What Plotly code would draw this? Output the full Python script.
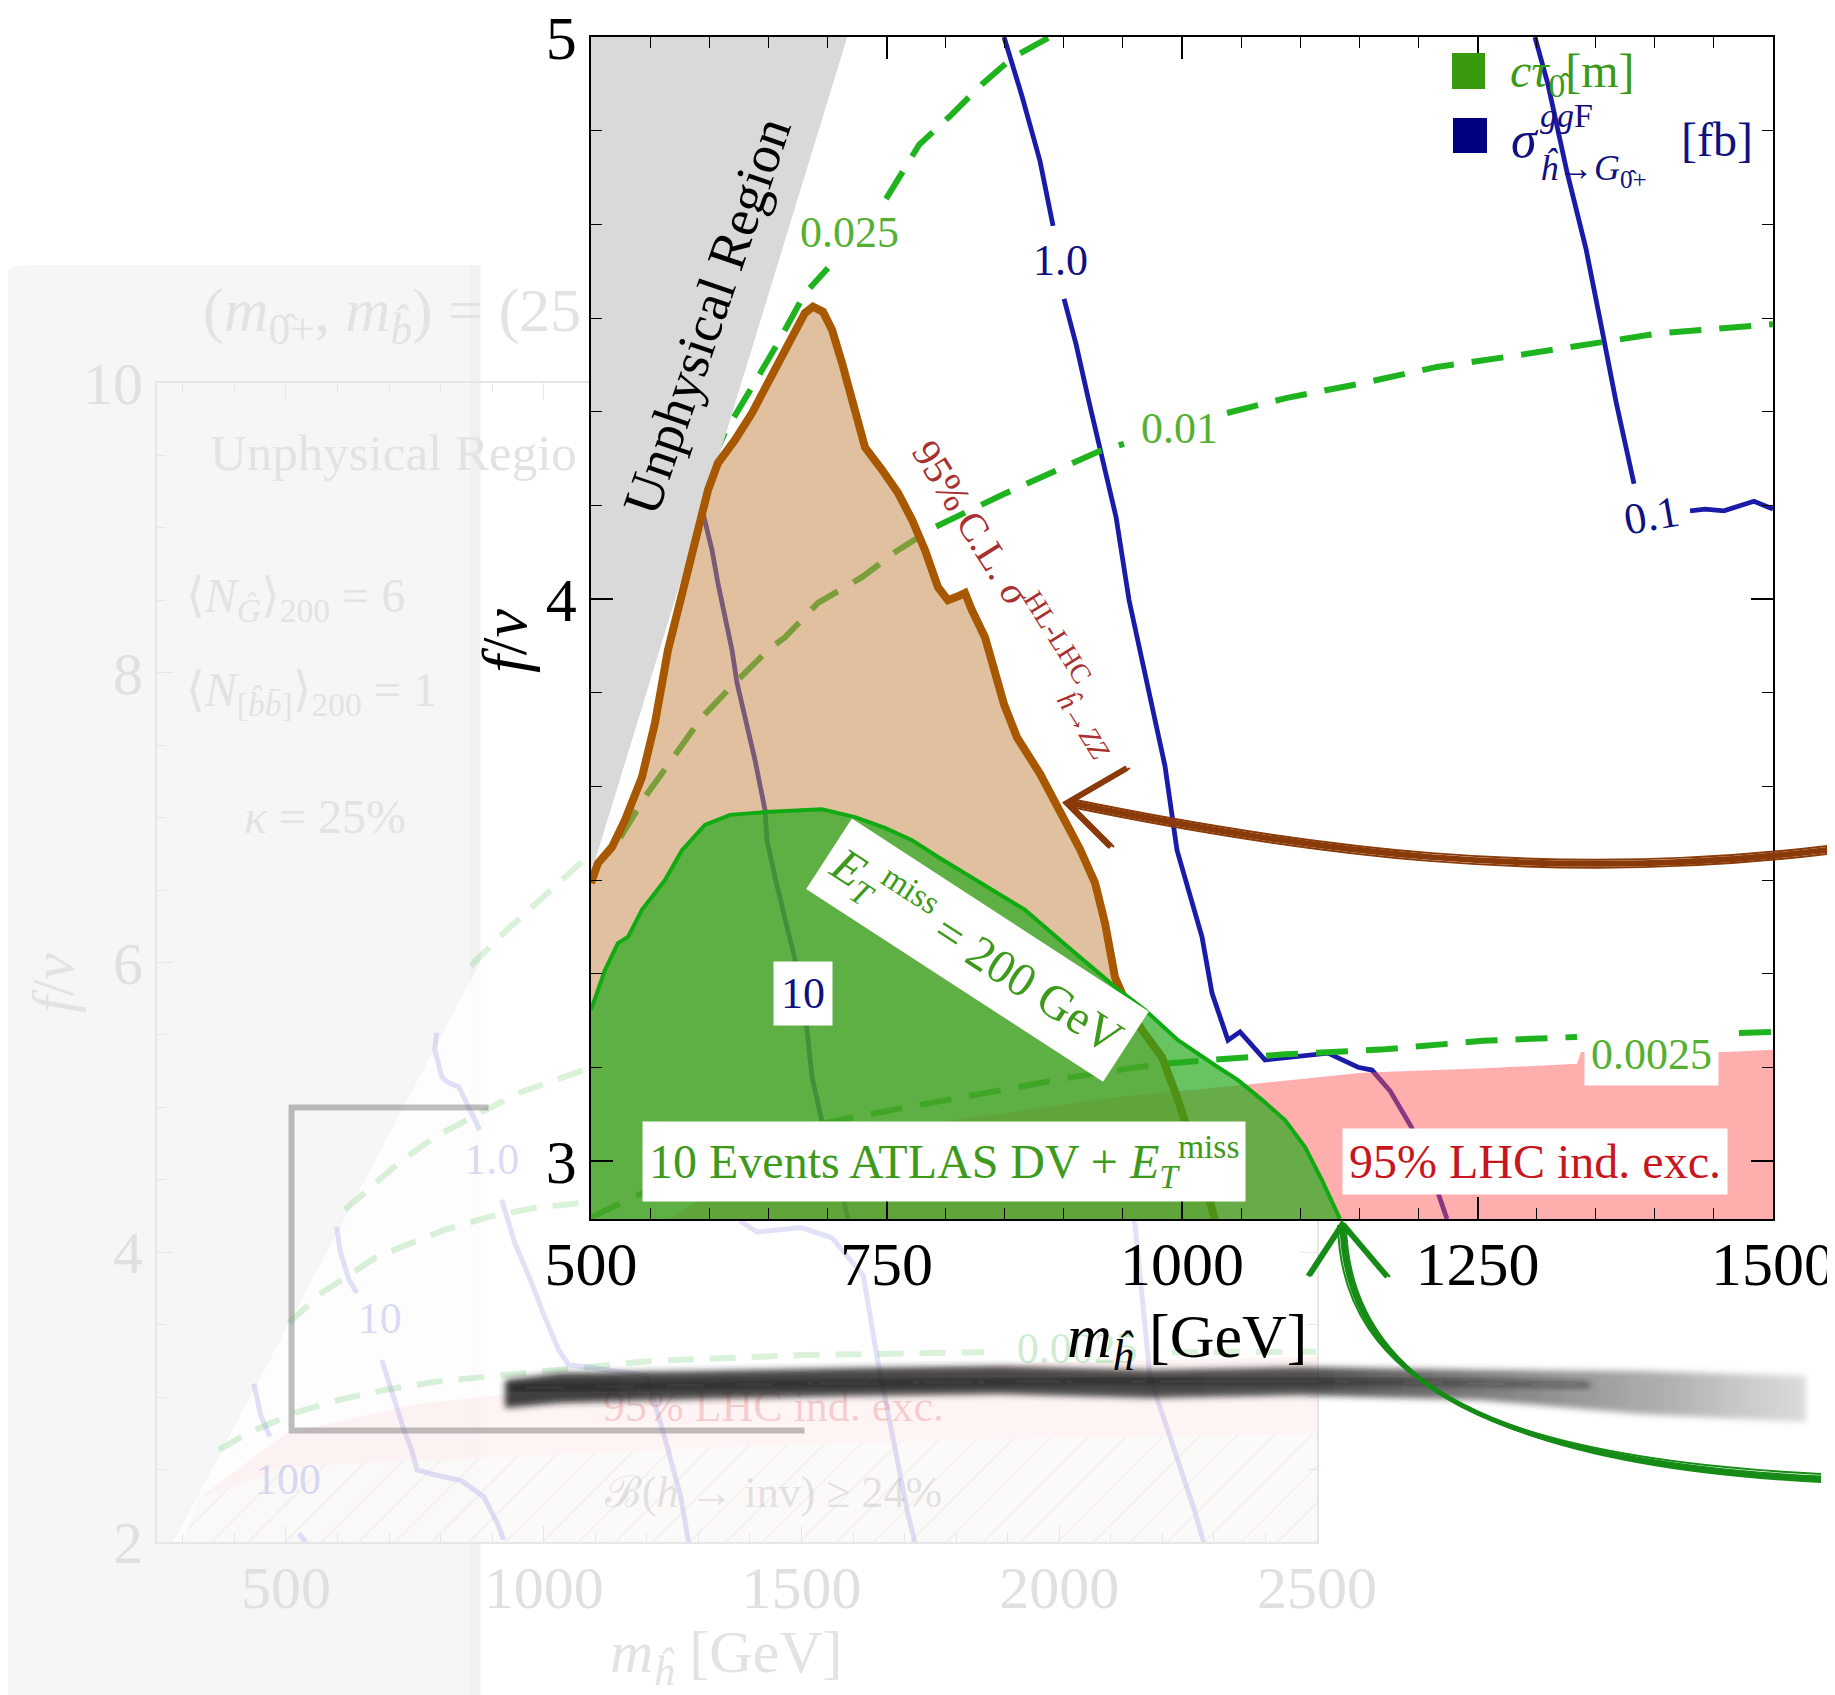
import base64
import plotly.graph_objects as go

W, H = 1835, 1695          # page size
OX, OY = 8, 8              # default body margin of the html page
FW, FH = W - OX, H - OY    # figure size
SERIF = "Liberation Serif, DejaVu Serif, serif"

# ================= main panel data : m_h [GeV] vs f/v =================
UNPHYS_X = [500.0, 716.8, 500.0]
UNPHYS_Y = [3.511, 5.0, 5.0]

BROWN_X = [500.0, 505.9, 517.8, 528.8, 543.1, 554.1, 565.1, 579.5, 590.5, 599.0, 607.4, 621.8,
           636.2, 653.1, 670.1, 681.0, 687.8, 696.3, 703.9, 712.4, 720.8, 731.8, 746.2, 759.7,
           771.6, 782.6, 793.6, 802.0, 810.5, 816.4, 822.3, 833.3, 849.4, 860.4, 879.9, 898.5,
           913.7, 926.4, 934.9, 943.3, 951.8, 966.2, 983.1, 996.6, 1008.5, 1019.5, 1027.9]
BROWN_Y = [3.495, 3.530, 3.559, 3.607, 3.683, 3.779, 3.909, 4.028, 4.128, 4.194, 4.242, 4.283,
           4.331, 4.395, 4.466, 4.509, 4.520, 4.511, 4.479, 4.420, 4.349, 4.270, 4.230, 4.189,
           4.141, 4.087, 4.021, 3.998, 4.005, 4.011, 3.980, 3.932, 3.813, 3.754, 3.689, 3.614,
           3.555, 3.495, 3.423, 3.327, 3.286, 3.233, 3.185, 3.109, 3.032, 2.961, 2.895]

GREEN_X = [500.0, 511.8, 522.8, 531.3, 543.1, 562.6, 577.0, 596.4, 617.6, 647.2, 695.4, 723.4,
           748.7, 771.6, 793.6, 833.3, 867.2, 903.6, 943.3, 968.7, 996.6, 1030.5, 1047.4, 1067.7,
           1087.1, 1104.1, 1118.4, 1133.7]
GREEN_Y = [3.269, 3.340, 3.388, 3.399, 3.447, 3.500, 3.553, 3.598, 3.616, 3.621, 3.626, 3.612,
           3.593, 3.571, 3.541, 3.491, 3.447, 3.381, 3.310, 3.269, 3.215, 3.167, 3.144, 3.109,
           3.073, 3.025, 2.966, 2.897]

PINK_X = [566.0, 592.2, 642.1, 719.1, 792.7, 944.2, 1015.2, 1082.9, 1152.3, 1254.7, 1334.2,
          1337.6, 1461.1, 1500.0]
PINK_Y = [2.897, 2.931, 2.980, 3.028, 3.069, 3.114, 3.128, 3.142, 3.157, 3.165, 3.173,
          3.194, 3.194, 3.198]

SIG_1_X = [849.4, 864.6, 879.9, 890.9, None, 900.2, 910.3, 921.3, 932.3, 944.2, 955.2, 970.4,
           985.6, 995.8, 1005.1, 1016.9, 1025.4, 1038.9, 1049.1, 1070.2, 1123.5, 1148.9, 1160.7,
           1176.0, 1193.7, 1210.7, 1224.2]
SIG_1_Y = [5.0, 4.895, 4.779, 4.664, None, 4.534, 4.454, 4.351, 4.249, 4.146, 3.998, 3.851,
           3.703, 3.553, 3.482, 3.399, 3.299, 3.215, 3.230, 3.180, 3.192, 3.167, 3.162,
           3.125, 3.062, 2.980, 2.897]
SIG_01_X = [1298.6, 1309.6, 1325.7, 1341.8, 1354.5, 1367.2, 1382.4, None, 1429.8, 1442.5,
            1458.5, 1483.9, 1500.0]
SIG_01_Y = [5.0, 4.916, 4.760, 4.623, 4.488, 4.351, 4.205, None, 4.157, 4.160, 4.157, 4.174, 4.160]
SIG_10_X = [594.8, 602.4, 607.4, 613.4, 619.3, 623.5, 632.8, 638.7, 647.2, 648.9, 655.7, 664.1,
            670.9, 679.4, 687.0, 696.3, 709.8, 717.4]
SIG_10_Y = [4.153, 4.087, 4.028, 3.968, 3.909, 3.851, 3.772, 3.714, 3.625, 3.571, 3.505, 3.434,
            3.375, 3.299, 3.149, 3.062, 2.966, 2.897]

CT025_X = [602.4, 613.4, 636.2, 658.2, 681.0, 700.5, None, 749.6, 777.5, 804.6, 830.8, 857.0, 888.3]
CT025_Y = [4.244, 4.297, 4.377, 4.456, 4.544, 4.589, None, 4.712, 4.808, 4.861, 4.916, 4.964, 5.0]
CT01_X = [524.5, 545.7, 560.1, 582.1, 593.9, 621.8, 649.7, 664.1, 692.0, 729.3, 759.7, 791.0,
          849.4, 928.9, 950.9, None, 1038.1, 1088.8, 1152.3, 1215.7, 1278.3, 1341.8, 1404.4, 1500.0]
CT01_Y = [3.575, 3.648, 3.690, 3.754, 3.790, 3.851, 3.909, 3.932, 3.993, 4.039, 4.087, 4.128,
          4.187, 4.262, 4.276, None, 4.331, 4.358, 4.384, 4.413, 4.432, 4.454, 4.473, 4.489]
CT0025_X = [500.0, 543.1, 592.2, 676.0, 754.7, 830.8, 906.1, 981.4, 1044.8, 1087.1, 1171.7,
            1254.7, 1334.2, None, 1471.2, 1500.0]
CT0025_Y = [2.900, 2.943, 2.998, 3.059, 3.091, 3.121, 3.149, 3.173, 3.182, 3.190, 3.199,
            3.214, 3.221, None, 3.228, 3.230]

MAIN_X_RANGE = [500, 1500]
MAIN_Y_RANGE = [2.897, 5.0]

# ================= faded background chart data =================
F_UNPHYS_X = [282, 1471]
F_UNPHYS_Y = [2.0, 10.0]
F_HATCH_TOP_X = [300, 330, 500, 1000, 1500, 2000, 2500]
F_HATCH_TOP_Y = [2.0, 2.30, 2.52, 2.60, 2.68, 2.72, 2.75]
F_PINK_TOP_X = [330, 500, 750, 1000, 1300, 1500, 2000, 2500]
F_PINK_TOP_Y = [2.30, 2.75, 2.95, 3.05, 3.12, 3.17, 3.24, 3.28]

F_SIG1_X = [792.6, 788.8, 802.3, 815.9, 835.3, 854.7, 876.0, None, 918.6, 943.8, 976.7, 1001.9,
            1029.1, 1048.5, 1079.5, 1200, 1238, 1266, 1281]
F_SIG1_Y = [5.514, 5.397, 5.210, 5.169, 5.142, 5.003, 4.845, None, 4.362, 4.065, 3.789, 3.554,
            3.326, 3.223, 3.209, 3.15, 2.68, 2.31, 2.0]
F_SIG10_X = [598.8, 604.7, 622.1, 637.6, None, 686.0, 705.4, 730.6, 744.2, 753.9, 788.8, 841.1,
             883.7, 910.9, 922.5]
F_SIG10_Y = [4.175, 4.017, 3.810, 3.720, None, 3.257, 3.030, 2.754, 2.636, 2.498, 2.464, 2.422,
             2.312, 2.126, 2.015]
F_SIG100_X = [438.0, 451.5, 469.0, None, 525.2, 538.8]
F_SIG100_Y = [3.092, 2.871, 2.726, None, 2.057, 2.0]
F_SIG01_X = [1300, 1384, 1414, 1500, 1559, 1620, 1647, 1706, 1720]
F_SIG01_Y = [5.0, 4.21, 4.14, 4.17, 4.10, 3.84, 3.27, 2.20, 2.0]
F_SIG001_X = [2100, 2147, 2176, 2264, 2280]
F_SIG001_Y = [5.0, 4.19, 3.14, 2.20, 2.0]

F_CT_A_X = [858.5, 926.4, 1031.0, 1200]
F_CT_A_Y = [5.977, 6.218, 6.556, 7.1]
F_CT_B_X = [614.3, 653.1, 719.0, 788.8, 860.5, 951.6, 1034.9, 1079.5, 1300]
F_CT_B_Y = [4.293, 4.410, 4.617, 4.796, 4.934, 5.100, 5.204, 5.259, 5.4]
F_CT_C_X = [505.8, 536.8, 569.8, 614.3, 672.5, 724.8, 808.1, 893.4, 982.6, 1073.6, 1300]
F_CT_C_Y = [3.513, 3.616, 3.720, 3.823, 3.961, 4.037, 4.155, 4.244, 4.306, 4.341, 4.40]
F_CT_D_X = [370.2, 428.3, 517.4, 602.7, 691.9, 788.8, 885.7, 982.6, 1079.5, 1209, 1500, 1854.7,
            None, 2219, 2498]
F_CT_D_Y = [2.636, 2.754, 2.892, 2.981, 3.050, 3.106, 3.140, 3.175, 3.202, 3.25, 3.29, 3.31,
            None, 3.31, 3.313]

F_LABELS_X = [899.2, 682.2, 503.9, 2035, 1445.7, 1445.7]
F_LABELS_Y = [4.617, 3.52, 2.409, 3.31, 2.912, 2.319]
F_LABELS_T = ["1.0", "10", "100", "0.0025", "95% LHC ind. exc.", "\u212c(<i>h</i> \u2192 inv) \u2265 24%"]
F_LABELS_C = ["rgba(150,150,225,0.35)", "rgba(150,150,225,0.35)", "rgba(150,150,225,0.35)",
              "rgba(90,190,90,0.3)", "rgba(220,90,90,0.25)", "rgba(150,150,150,0.25)"]
F_BOX_X = [511, 511, 1506]
F_BOX_Y = [5.0, 2.77, 2.77]
F_BOX_TOP_END = 893

F_X_TICKS = [500, 1000, 1500, 2000, 2500]
F_Y_TICKS = [2, 4, 6, 8, 10]

# ================= colours =================
BLUE = "#1b1baa"
DGREEN = "#1fb41f"
FADE_BLUE = "rgba(120,120,225,0.22)"
FADE_GREEN = "rgba(80,195,80,0.22)"
FADE_TXT = "#e0e0e0"


def fx(px):
    return (px - OX) / FW


def fy(py):
    return 1 - (py - OY) / FH


fig = go.Figure()


def line(x, y, color, width, dash=None, xa="x2", ya="y2"):
    fig.add_trace(go.Scatter(x=x, y=y, mode="lines", xaxis=xa, yaxis=ya,
                             line=dict(color=color, width=width, dash=dash),
                             hoverinfo="skip", showlegend=False))


def poly(x, y, color, xa="x2", ya="y2", pattern=None):
    fig.add_trace(go.Scatter(x=x, y=y, mode="lines", fill="toself", fillcolor=color,
                             xaxis=xa, yaxis=ya, line=dict(width=0, color="rgba(0,0,0,0)"),
                             fillpattern=pattern, hoverinfo="skip", showlegend=False))


# ---------------- faded background chart (x / y) ----------------
poly([F_UNPHYS_X[0], F_UNPHYS_X[1], 2500, 2500], [F_UNPHYS_Y[0], F_UNPHYS_Y[1], 10, 2],
     "rgba(255,255,255,0.75)", "x", "y")
poly(F_HATCH_TOP_X + [2500, 300], F_HATCH_TOP_Y + [2.0, 2.0], "rgba(250,245,245,0.6)", "x", "y",
     pattern=dict(shape="/", fgcolor="rgba(190,180,180,0.3)", bgcolor="rgba(250,245,245,0.6)",
                  size=26, solidity=0.06))
poly(F_PINK_TOP_X + F_HATCH_TOP_X[::-1][:-1], F_PINK_TOP_Y + F_HATCH_TOP_Y[::-1][:-1],
     "rgba(255,180,180,0.14)", "x", "y")
for cxs, cys in [(F_CT_A_X, F_CT_A_Y), (F_CT_B_X, F_CT_B_Y), (F_CT_C_X, F_CT_C_Y), (F_CT_D_X, F_CT_D_Y)]:
    line(cxs, cys, FADE_GREEN, 6, "26px,16px", "x", "y")
for sxs, sys_ in [(F_SIG1_X, F_SIG1_Y), (F_SIG10_X, F_SIG10_Y), (F_SIG100_X, F_SIG100_Y),
                  (F_SIG01_X, F_SIG01_Y), (F_SIG001_X, F_SIG001_Y)]:
    line(sxs, sys_, FADE_BLUE, 5, None, "x", "y")
fig.add_trace(go.Scatter(x=F_LABELS_X, y=F_LABELS_Y, mode="text", text=F_LABELS_T,
                         textfont=dict(family=SERIF, size=44, color=F_LABELS_C),
                         xaxis="x", yaxis="y", hoverinfo="skip", showlegend=False))

# ---------------- main chart (x2 / y2) ----------------
line(SIG_1_X, SIG_1_Y, BLUE, 4.8)
line(SIG_01_X, SIG_01_Y, BLUE, 4.8)
line(SIG_10_X, SIG_10_Y, BLUE, 4.8)
for cxs, cys in [(CT025_X, CT025_Y), (CT01_X, CT01_Y), (CT0025_X, CT0025_Y)]:
    line(cxs, cys, DGREEN, 6, "32px,18px")
poly(UNPHYS_X, UNPHYS_Y, "#d9d9d9")
poly(PINK_X + [1500, 566.0], PINK_Y + [2.85, 2.85], "rgba(255,85,85,0.48)")
poly(BROWN_X + [1027.9, 500.0], BROWN_Y + [2.85, 2.85], "rgba(200,140,80,0.55)")
line(BROWN_X, BROWN_Y, "#a85800", 8)
poly(GREEN_X + [1133.7, 500.0], GREEN_Y + [2.85, 2.85], "rgba(40,170,30,0.70)")
line(GREEN_X, GREEN_Y, "#12aa12", 4)

# ---------------- axes ----------------
tickfont = dict(family=SERIF, size=62, color="black")
fadefont = dict(family=SERIF, size=60, color=FADE_TXT)
common = dict(showgrid=False, zeroline=False, automargin=False, showline=True, mirror="ticks",
              ticklabeloverflow="allow")
fig.update_layout(
    width=FW, height=FH, margin=dict(l=0, r=0, t=0, b=0, pad=0), autosize=False,
    paper_bgcolor="white", plot_bgcolor="white", showlegend=False,
    xaxis=dict(domain=[fx(157), fx(1317)], range=[250, 2500], anchor="y",
               tickmode="array", tickvals=F_X_TICKS, ticks="inside", ticklen=16, tickcolor="#e6e6e6",
               tickfont=fadefont, linecolor="#e6e6e6", linewidth=2, ticklabelstandoff=-8,
               minor=dict(ticks="inside", ticklen=9, dtick=100, tick0=0, tickcolor="#e6e6e6"), **common),
    yaxis=dict(domain=[fy(1542), fy(383)], range=[2, 10], anchor="x",
               tickmode="array", tickvals=F_Y_TICKS, ticks="inside", ticklen=16, tickcolor="#e6e6e6",
               tickfont=fadefont, linecolor="#e6e6e6", linewidth=2, ticklabelstandoff=0,
               minor=dict(ticks="inside", ticklen=9, dtick=0.5, tick0=0, tickcolor="#e6e6e6"), **common),
    xaxis2=dict(domain=[fx(591), fx(1773)], range=MAIN_X_RANGE, anchor="y2",
                tick0=500, dtick=250, ticks="inside", ticklen=22, tickwidth=1.5, tickcolor="black",
                tickfont=tickfont, linecolor="black", linewidth=1.5, ticklabelstandoff=-10,
                minor=dict(ticks="inside", ticklen=11, tickwidth=1.3, dtick=50, tick0=500,
                           tickcolor="black"), **common),
    yaxis2=dict(domain=[fy(1219), fy(37)], range=MAIN_Y_RANGE, anchor="x2",
                tick0=3, dtick=1, ticks="inside", ticklen=22, tickwidth=1.5, tickcolor="black",
                tickfont=tickfont, linecolor="black", linewidth=1.5, ticklabelstandoff=0,
                minor=dict(ticks="inside", ticklen=11, tickwidth=1.3, dtick=1 / 6, tick0=3,
                           tickcolor="black"), **common),
)


# ---------------- decorations (page pixel positions -> paper) ----------------
def pt(px, py):
    return f"{fx(px):.5f},{fy(py):.5f}"


def path(pts, close=False):
    s = ""
    for i, (px, py) in enumerate(pts):
        s += ("M" if i == 0 else "L") + pt(px, py) + " "
    return s + ("Z" if close else "")


def bez(p0, c1, c2, p1):
    return f"M{pt(*p0)} C{pt(*c1)} {pt(*c2)} {pt(*p1)}"


# black brush smudge: a blurred SVG stroke with a fading gradient
SM_X0, SM_Y0, SM_W, SM_H = 490, 1340, 1340, 100
SM_TOP = [(15, 40), (70, 33), (210, 31), (360, 28), (510, 26), (660, 30), (810, 27), (990, 30),
          (1150, 31), (1316, 36)]
SM_BOT = [(1316, 82), (1150, 74), (990, 60), (810, 55), (660, 58), (510, 54), (360, 56),
          (210, 59), (70, 63), (15, 68)]
sm_d = "M" + " L".join(f"{a},{b}" for a, b in SM_TOP + SM_BOT) + " Z"
sm_streak = "M20,48 L300,44 L600,41 L900,42 L1100,45"
svg = (f"<svg xmlns='http://www.w3.org/2000/svg' width='{SM_W}' height='{SM_H}' "
       f"viewBox='0 0 {SM_W} {SM_H}'><defs>"
       "<linearGradient id='g' x1='0' x2='1' y1='0' y2='0'>"
       "<stop offset='0' stop-color='#222' stop-opacity='0.85'/>"
       "<stop offset='0.62' stop-color='#2a2a2a' stop-opacity='0.82'/>"
       "<stop offset='0.75' stop-color='#444' stop-opacity='0.7'/>"
       "<stop offset='0.9' stop-color='#666' stop-opacity='0.5'/>"
       "<stop offset='1' stop-color='#888' stop-opacity='0.3'/></linearGradient>"
       "<filter id='b' x='-5%' y='-50%' width='110%' height='200%'><feGaussianBlur stdDeviation='3'/></filter>"
       "</defs>"
       f"<path d='{sm_d}' fill='url(#g)' filter='url(#b)'/>"
       f"<path d='{sm_streak}' stroke='#111' stroke-opacity='0.5' stroke-width='5' fill='none' filter='url(#b)'/>"
       "</svg>")
smudge_src = "data:image/svg+xml;base64," + base64.b64encode(svg.encode()).decode()
fig.add_layout_image(dict(source=smudge_src, xref="paper", yref="paper", x=fx(SM_X0), y=fy(SM_Y0),
                          sizex=SM_W / FW, sizey=SM_H / FH, xanchor="left", yanchor="top",
                          sizing="stretch", layer="above", opacity=1))

shapes = []
# light grey panel on the left
shapes.append(dict(type="path", xref="paper", yref="paper", layer="below",
                   path=f"M{pt(0, 292)} Q{pt(0, 265)} {pt(27, 265)} L{pt(480, 265)} L{pt(480, H)} L{pt(0, H)} Z",
                   fillcolor="#f6f6f6", line=dict(width=0)))
shapes.append(dict(type="path", xref="paper", yref="paper", layer="below",
                   path=path([(470, 265), (482, 265), (482, H), (470, H)], True),
                   fillcolor="rgba(0,0,0,0.02)", line=dict(width=0)))
# zoom box of the faded chart
shapes.append(dict(type="path", xref="x", yref="y", layer="above",
                   path=f"M{F_BOX_TOP_END},{F_BOX_Y[0]} L{F_BOX_X[0]},{F_BOX_Y[0]} "
                        f"L{F_BOX_X[1]},{F_BOX_Y[1]} L{F_BOX_X[2]},{F_BOX_Y[2]}",
                   line=dict(color="rgba(110,110,110,0.45)", width=6)))
# brown hand-drawn arrow
BR_TIP, BR_C1, BR_C2, BR_END = (1067, 803), (1300, 850), (1550, 885), (1835, 849)
BR_HEAD = [(1127, 768), (1067, 803), (1111, 847)]
for dy, wdt in [(0, 6), (-4, 2), (4, 2)]:
    shapes.append(dict(type="path", xref="paper", yref="paper",
                       path=bez((BR_TIP[0] + 4, BR_TIP[1] + dy), (BR_C1[0], BR_C1[1] + dy),
                                (BR_C2[0], BR_C2[1] + dy), (BR_END[0], BR_END[1] + dy)),
                       line=dict(color="#8a3a08", width=wdt)))
for dx, wdt in [(0, 6), (3, 2), (-3, 2)]:
    shapes.append(dict(type="path", xref="paper", yref="paper",
                       path=path([(x + dx, y) for x, y in BR_HEAD]),
                       line=dict(color="#8a3a08", width=wdt)))
# green hand-drawn arrow
GR_TIP, GR_C1, GR_C2, GR_END = (1342, 1225), (1345, 1385), (1500, 1462), (1821, 1478)
GR_HEAD = [(1308, 1276), (1342, 1224), (1387, 1277)]
for dx, wdt in [(0, 5), (-4, 2), (4, 2), (2, 3)]:
    shapes.append(dict(type="path", xref="paper", yref="paper",
                       path=bez((GR_TIP[0] + dx, GR_TIP[1]), (GR_C1[0] + dx, GR_C1[1]),
                                (GR_C2[0] + dx, GR_C2[1] + dx), (GR_END[0], GR_END[1] + dx)),
                       line=dict(color="#168c16", width=wdt)))
for dx, wdt in [(0, 5), (3, 2)]:
    shapes.append(dict(type="path", xref="paper", yref="paper",
                       path=path([(x + dx, y) for x, y in GR_HEAD]),
                       line=dict(color="#168c16", width=wdt)))
# legend squares
shapes.append(dict(type="path", xref="paper", yref="paper",
                   path=path([(1452, 53), (1485, 53), (1485, 89), (1452, 89)], True),
                   fillcolor="#3a9a0e", line=dict(width=0)))
shapes.append(dict(type="path", xref="paper", yref="paper",
                   path=path([(1453, 118), (1487, 118), (1487, 153), (1453, 153)], True),
                   fillcolor="#000080", line=dict(width=0)))
fig.update_layout(shapes=shapes)

# ---------------- annotations ----------------
ann = []


def A(text, x, y, size=44, color="black", ref="data", angle=0, bg=None, xanchor="center", pad=4):
    d = dict(text=text, x=x, y=y, showarrow=False, textangle=angle, xanchor=xanchor, yanchor="middle",
             font=dict(family=SERIF, size=size, color=color), borderpad=pad)
    if ref == "data":
        d.update(xref="x2", yref="y2")
    else:
        d.update(xref="paper", yref="paper", x=fx(x), y=fy(y))
    if bg:
        d.update(bgcolor=bg)
    ann.append(d)


# faded chart texts
A("(<i>m</i><sub>0\u0302+</sub>, <i>m</i><sub><i>b\u0302</i></sub>) = (25", 198, 314, 62, "#e3e3e3",
  "paper", xanchor="left")
A("Unphysical Regio", 205, 453, 51, "#e3e3e3", "paper", xanchor="left")
A("\u27e8<i>N</i><sub><i>\u011c</i></sub>\u27e9<sub>200</sub> = 6", 181, 599, 48, "#e3e3e3", "paper",
  xanchor="left")
A("\u27e8<i>N</i><sub>[<i>b\u0302b\u0304</i>]</sub>\u27e9<sub>200</sub> = 1", 181, 693, 48, "#e3e3e3",
  "paper", xanchor="left")
A("<i>\u03ba</i> = 25%", 325, 816, 48, "#e3e3e3", "paper")
A("<i>f</i>/<i>v</i>", 53, 983, 60, "#e3e3e3", "paper", angle=-90)
A("<i>m</i><sub><i>\u0125</i></sub> [GeV]", 726, 1656, 60, "#e3e3e3", "paper")

# main chart texts
A("Unphysical Region", 598, 4.504, 54, "black", angle=-71)
A("0.025", 718.3, 4.653, 44, "#55b032")
A("0.01", 998, 4.304, 44, "#55b032")
A("0.0025", 1397.6, 3.19, 44, "#55b032", bg="white", pad=6)
A("1.0", 897.6, 4.603, 44, "#101080")
A("0.1", 1397.6, 4.149, 44, "#101080", angle=-10)
A("10", 679.4, 3.299, 44, "#101080", bg="white", pad=7)
A("95% C.L. <i>\u03c3</i><sup>HL-LHC</sup><sub><i>\u0125</i>\u2192<i>ZZ</i></sub>", 861.3, 4.004, 40,
  "#a83030", angle=58)
A("<i>E</i><sub><i>T</i></sub><sup>miss</sup> = 200 GeV", 827.4, 3.375, 48, "#3d9a1a", angle=33,
  bg="white", pad=8)
A("10 Events ATLAS DV + <i>E</i><sub><i>T</i></sub><sup>miss</sup>", 798.6, 3.0, 48, "#3d9a1a",
  bg="white", pad=6)
A("95% LHC ind. exc.", 1298.6, 3.0, 48, "#c8161e", bg="white", pad=6)

# axis titles
A("<i>f</i>/<i>v</i>", 504, 640, 64, "black", "paper", angle=-90)
A("<i>m</i><sub><i>\u0125</i></sub> [GeV]", 1187, 1340, 62, "black", "paper")

# legend texts
A("<i>c\u03c4</i><sub>0\u0302</sub>[m]", 1505, 74, 48, "#3a9a18", "paper", xanchor="left")
A("<i>\u03c3</i>", 1506, 140, 52, "#101080", "paper", xanchor="left")
A("<i>gg</i>F", 1535, 116, 34, "#101080", "paper", xanchor="left")
A("<i>\u0125</i>\u2192<i>G</i><sub>0\u0302+</sub>", 1535, 170, 36, "#101080", "paper", xanchor="left")
A("[fb]", 1676, 140, 48, "#101080", "paper", xanchor="left")

fig.update_layout(annotations=ann)
fig.write_html("out.html")
